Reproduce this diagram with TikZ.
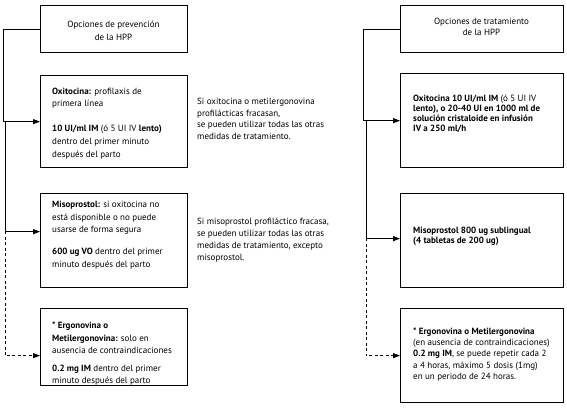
\documentclass[tikz,border=0pt]{standalone}
\usepackage{fontspec}
\setmainfont{PT Sans}
\usetikzlibrary{arrows.meta}
\begin{document}
\begin{tikzpicture}[x=1pt,y=-1pt,
  box/.style={draw, line width=1.3pt, anchor=north west, inner sep=0pt},
  lbox/.style={box, minimum width=147pt},
  rbox/.style={box, minimum width=163pt},
  txt/.style={inner sep=0pt, anchor=north west, align=left, font=\fontsize{9}{#1}\selectfont},
  ctxt/.style={inner sep=0pt, anchor=north, align=center, font=\fontsize{9}{#1}\selectfont},
  conn/.style={line width=1pt, -{Triangle[length=7pt,width=5pt]}},
  dsh/.style={dash pattern=on 3pt off 2.5pt}
]
\useasboundingbox[fill=white] (0,0) rectangle (567,409);
% left column boxes
\node[lbox, minimum height=47pt] (L1) at (40,5) {};
\node[lbox, minimum height=92pt] (L2) at (40,75) {};
\node[lbox, minimum height=94pt] (L3) at (40,193) {};
\node[lbox, minimum height=77pt] (L4) at (40,308) {};
% right column boxes
\node[rbox, minimum height=47pt] (R1) at (400,5) {};
\node[rbox, minimum height=94pt] (R2) at (400,73) {};
\node[rbox, minimum height=94pt] (R3) at (400,193) {};
\node[rbox, minimum height=94pt] (R4) at (400,308) {};
% texts
\node[ctxt=13] (L1t) at (113.5,18) {\strut Opciones de prevención\\de la HPP};
\node[txt=12.6] (L2t) at (52,85) {\strut\textbf{Oxitocina:} profilaxis de\\primera línea\\[12.6pt]\textbf{10 UI/ml IM} (ó 5 UI IV \textbf{lento)}\\dentro del primer minuto\\después del parto};
\node[txt=12.5] (L3t) at (52,199) {\strut\textbf{Misoprostol:} si oxitocina no\\está disponible o no puede\\usarse de forma segura\\[9.5pt]\textbf{600 ug VO} dentro del primer\\minuto después del parto};
\node[txt=12.5] (L4t) at (52,320) {\strut\textbf{* Ergonovina o}\\\textbf{Metilergonovina:} solo en\\ausencia de contraindicaciones\\[5pt]\textbf{0.2 mg IM} dentro del primer\\minuto después del parto};
\node[txt=11.7] (TA) at (197,96) {\strut Si oxitocina o metilergonovina\\profilácticas fracasan,\\se pueden utilizar todas las otras\\medidas de tratamiento.};
\node[txt=12] (TB) at (197,216) {\strut Si misoprostol profiláctico fracasa,\\se pueden utilizar todas las otras\\medidas de tratamiento, excepto\\misoprostol.};
\node[ctxt=11] (R1t) at (481.5,17) {\strut Opciones de tratamiento\\de la HPP};
\node[txt=10] (R2t) at (413,94) {\strut\textbf{Oxitocina 10 UI/ml IM} (ó 5 UI IV\\\textbf{lento), o 20-40 UI en 1000 ml de}\\\textbf{solución cristaloide en infusión}\\\textbf{IV a 250 ml/h}};
\node[txt=9.5] (R3t) at (413,227) {\strut\textbf{Misoprostol 800 ug sublingual}\\\textbf{(4 tabletas de 200 ug)}};
\node[txt=11.3] (R4t) at (413,326) {\strut\textbf{* Ergonovina o Metilergonovina}\\(en ausencia de contraindicaciones)\\\textbf{0.2 mg IM}, se puede repetir cada 2\\a 4 horas, máximo 5 dosis (1mg)\\en un periodo de 24 horas.};
% left connectors
\coordinate (lj1) at (5,121);
\coordinate (lj2) at (5,231);
\draw[conn] (L1.west) -- ++(-37,0) |- (L2.west);
\draw[conn] (lj1) |- ([yshift=9pt]L3.west);
\draw[conn,dsh] (lj2) |- ([yshift=-8.5pt]L4.west);
% right connectors
\coordinate (rj1) at (366,120);
\coordinate (rj2) at (366,238);
\draw[conn] (R1.west) -- ++(-37,0) |- (R2.west);
\draw[conn] (rj1) |- ([yshift=2pt]R3.west);
\draw[conn,dsh] (rj2) |- (R4.west);
\end{tikzpicture}
\end{document}
